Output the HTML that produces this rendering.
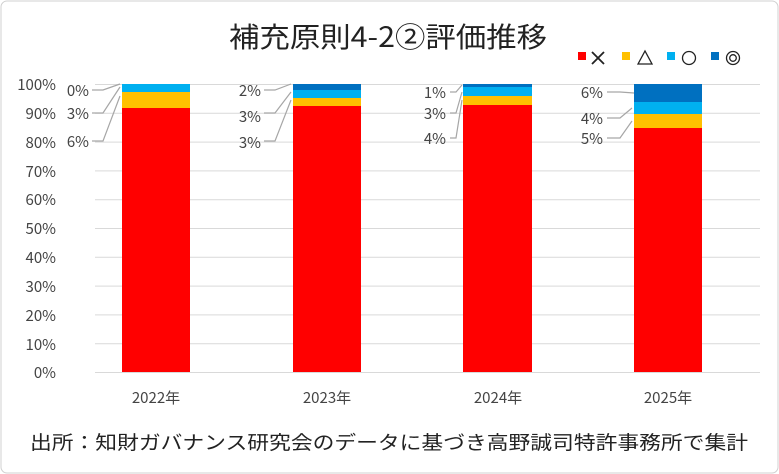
<!DOCTYPE html>
<html><head><meta charset="utf-8"><style>
body{margin:0;background:#fff}
svg{display:block;font-family:"Noto Sans CJK JP","Liberation Sans",sans-serif}
</style></head><body>
<svg width="779" height="474" viewBox="0 0 779 474">
<rect x="1" y="1" width="777" height="472" rx="6" fill="#fff" stroke="#d0d0d0"/>
<text x="388" y="47" font-size="28" text-anchor="middle" fill="#222" textLength="318" lengthAdjust="spacingAndGlyphs">補充原則4-2②評価推移</text>
<g fill="#222">
<rect x="578" y="52" width="8" height="8" fill="#ff0000"/>
<path d="M592 52 L604 64 M604 52 L592 64" stroke="#222" stroke-width="1.8"/>
<rect x="622" y="52" width="8" height="8" fill="#ffc000"/>
<path d="M638 64 L645 51 L652 64 Z" fill="none" stroke="#222" stroke-width="1.3"/>
<rect x="667" y="52" width="8" height="8" fill="#00b0f0"/>
<circle cx="689" cy="58" r="6.5" fill="none" stroke="#222" stroke-width="1.3"/>
<rect x="711" y="52" width="8" height="8" fill="#0070c0"/>
<circle cx="733" cy="58" r="6.5" fill="none" stroke="#222" stroke-width="1.3"/>
<circle cx="733" cy="58" r="3.3" fill="none" stroke="#222" stroke-width="1.3"/>
</g>
<g stroke="#d9d9d9" stroke-width="1">
<line x1="95" x2="760" y1="84.5" y2="84.5"/><line x1="95" x2="760" y1="113.3" y2="113.3"/>
<line x1="95" x2="760" y1="142.1" y2="142.1"/><line x1="95" x2="760" y1="170.9" y2="170.9"/>
<line x1="95" x2="760" y1="199.7" y2="199.7"/><line x1="95" x2="760" y1="228.5" y2="228.5"/>
<line x1="95" x2="760" y1="257.3" y2="257.3"/><line x1="95" x2="760" y1="286.1" y2="286.1"/>
<line x1="95" x2="760" y1="314.9" y2="314.9"/><line x1="95" x2="760" y1="343.7" y2="343.7"/>
<line x1="95" x2="760" y1="372.5" y2="372.5"/>
</g>
<g font-size="15" fill="#444" text-anchor="end">
<text x="56" y="90">100%</text><text x="56" y="119">90%</text><text x="56" y="148">80%</text>
<text x="56" y="177">70%</text><text x="56" y="205">60%</text><text x="56" y="234">50%</text>
<text x="56" y="263">40%</text><text x="56" y="292">30%</text><text x="56" y="321">20%</text>
<text x="56" y="350">10%</text><text x="56" y="378">0%</text>
</g>
<rect x="122" y="108" width="68" height="264" fill="#ff0000"/>
<rect x="122" y="91" width="68" height="17" fill="#ffc000"/>
<rect x="122" y="84" width="68" height="8" fill="#00b0f0"/>
<rect x="293" y="106" width="68" height="266" fill="#ff0000"/>
<rect x="293" y="97" width="68" height="9" fill="#ffc000"/>
<rect x="293" y="90" width="68" height="8" fill="#00b0f0"/>
<rect x="293" y="84" width="68" height="6" fill="#0070c0"/>
<rect x="463" y="105" width="69" height="267" fill="#ff0000"/>
<rect x="463" y="96" width="69" height="9" fill="#ffc000"/>
<rect x="463" y="87" width="69" height="9" fill="#00b0f0"/>
<rect x="463" y="84" width="69" height="3" fill="#0070c0"/>
<rect x="634" y="128" width="68" height="244" fill="#ff0000"/>
<rect x="634" y="114" width="68" height="14" fill="#ffc000"/>
<rect x="634" y="102" width="68" height="12" fill="#00b0f0"/>
<rect x="634" y="84" width="68" height="18" fill="#0070c0"/>
<g fill="none" stroke="#a6a6a6" stroke-width="1.2">
<polyline points="92,90 103,90 120,84"/><polyline points="92,113 103,113 120,87"/><polyline points="92,141 103,141 120,96"/>
<polyline points="264,90 275,90 291,84"/><polyline points="264,113 275,113 291,92"/><polyline points="264,141 275,141 291,100"/>
<polyline points="450,92 456,92 462,85"/><polyline points="450,113 456,113 462,92"/><polyline points="450,138 456,138 462,100"/>
<polyline points="607,92 620,92 634,93"/><polyline points="607,118 620,118 632,108"/><polyline points="607,138 620,138 632,121"/>
</g>
<g font-size="15" fill="#444" text-anchor="end">
<text x="89" y="96">0%</text><text x="89" y="119">3%</text><text x="89" y="147">6%</text>
<text x="261" y="96">2%</text><text x="261" y="122">3%</text><text x="261" y="148">3%</text>
<text x="446" y="98">1%</text><text x="446" y="119">3%</text><text x="446" y="144">4%</text>
<text x="603" y="98">6%</text><text x="603" y="124">4%</text><text x="603" y="144">5%</text>
</g>
<g font-size="15" fill="#444" text-anchor="middle">
<text x="156" y="403">2022年</text><text x="327" y="403">2023年</text>
<text x="498" y="403">2024年</text><text x="668" y="403">2025年</text>
</g>
<text x="30" y="449" font-size="19" fill="#222" textLength="718" lengthAdjust="spacingAndGlyphs">出所：知財ガバナンス研究会のデータに基づき高野誠司特許事務所で集計</text>
</svg>
</body></html>
